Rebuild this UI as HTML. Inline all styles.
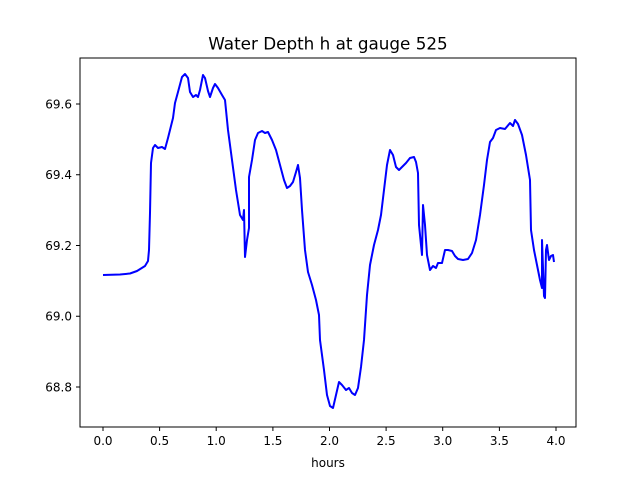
<!DOCTYPE html>
<html><head><style>body{margin:0;background:#fff}</style></head><body>
<svg width="640" height="480" xmlns="http://www.w3.org/2000/svg" font-family="DejaVu Sans, Liberation Sans, sans-serif">
<rect width="640" height="480" fill="#fff"/>
<text x="328" y="49.5" font-size="16.8" text-anchor="middle">Water Depth h at gauge 525</text>
<polyline fill="none" stroke="#0000ff" stroke-width="2" stroke-linejoin="round" points="103,275 120,274.5 130,273.5 137,271 145,266 148,261 149,250 150,213 151,163 153,148 155,145 158,148 162,147 165,149 168,138 170,130 173,118 175,103 178,92 182,77 185,74 188,78 190,92 193,97 196,95 198,97 200,90 203,75 205,78 208,91 210,97 213,88 215,84 218,88 222,95 225,100 228,130 232,160 236,190 240,215 243,220 244,210 245,257 247,240 249,228 249,177 252,160 255,140 258,133 262,131 265,133 268,132 272,140 276,150 280,165 284,180 287,188 290,186 293,182 296,172 298,165 300,178 302,210 305,250 308,272 312,285 316,300 319,315 320,340 324,370 327,395 330,406 333,408 336,395 339,382 342,385 346,390 349,388 352,393 355,395 358,388 361,367 364,340 367,295 370,265 374,245 378,230 381,215 384,190 387,165 390,150 393,155 396,167 399,170 402,167 406,163 410,158 414,157 416,162 418,173 419,225 420,235 422,255 423,205 425,225 427,255 430,270 433,266 436,268 438,263 442,263 445,250 448,250 452,251 455,256 458,259 463,260 468,259 472,253 476,240 480,215 484,185 487,160 490,142 493,138 496,130 500,128 505,129 510,123 513,126 515,120 518,124 522,135 526,155 530,180 531,230 534,250 537,265 540,280 542,288 542,240 544,296 545,298 546,250 547,245 549,260 551,256 553,255 554,262"/>
<rect x="80" y="58" width="496" height="369" fill="none" stroke="#000" stroke-width="1"/>
<g stroke="#000" stroke-width="1">
<line x1="103" y1="427" x2="103" y2="431"/><line x1="159.6" y1="427" x2="159.6" y2="431"/><line x1="216.2" y1="427" x2="216.2" y2="431"/><line x1="272.9" y1="427" x2="272.9" y2="431"/><line x1="329.5" y1="427" x2="329.5" y2="431"/><line x1="386.1" y1="427" x2="386.1" y2="431"/><line x1="442.7" y1="427" x2="442.7" y2="431"/><line x1="499.4" y1="427" x2="499.4" y2="431"/><line x1="556" y1="427" x2="556" y2="431"/>
<line x1="76" y1="387" x2="80" y2="387"/><line x1="76" y1="316.25" x2="80" y2="316.25"/><line x1="76" y1="245.5" x2="80" y2="245.5"/><line x1="76" y1="174.75" x2="80" y2="174.75"/><line x1="76" y1="104" x2="80" y2="104"/>
</g>
<g font-size="12" text-anchor="middle">
<text x="103" y="445">0.0</text><text x="159.6" y="445">0.5</text><text x="216.2" y="445">1.0</text><text x="272.9" y="445">1.5</text><text x="329.5" y="445">2.0</text><text x="386.1" y="445">2.5</text><text x="442.7" y="445">3.0</text><text x="499.4" y="445">3.5</text><text x="556" y="445">4.0</text>
<text x="328" y="467">hours</text>
</g>
<g font-size="12" text-anchor="end">
<text x="72" y="391.5">68.8</text><text x="72" y="320.7">69.0</text><text x="72" y="250">69.2</text><text x="72" y="179.2">69.4</text><text x="72" y="108.5">69.6</text>
</g>
</svg>
</body></html>
